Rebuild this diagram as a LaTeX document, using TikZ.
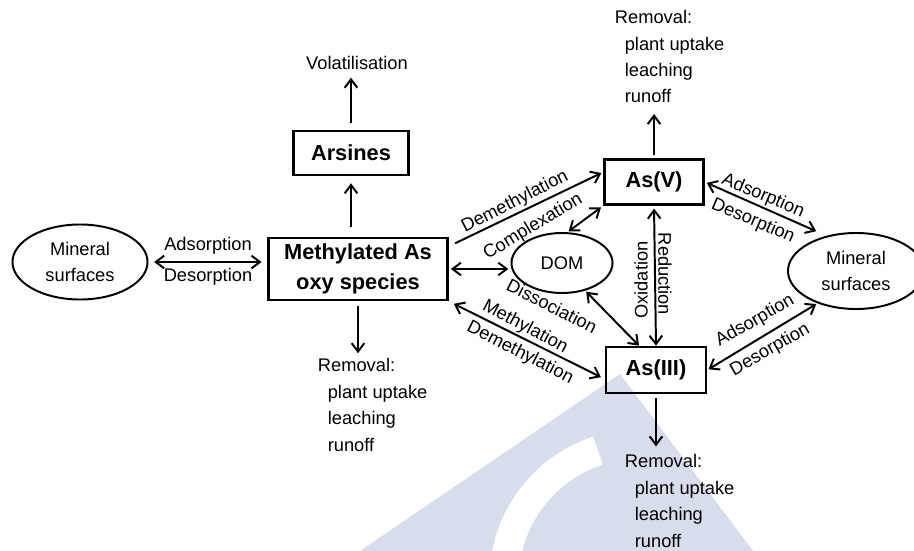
\documentclass[tikz,border=0pt]{standalone}
\usepackage{fontspec}
\setmainfont{Liberation Sans}
\usetikzlibrary{arrows.meta, shapes.geometric}
\definecolor{wmblue}{RGB}{216,221,235}

\begin{document}
\begin{tikzpicture}[x=0.025cm, y=-0.025cm, line width=1.4pt,
  font=\fontsize{13}{18.8}\selectfont,
  >={Straight Barb[length=6pt,width=9pt]},
  species/.style={draw, line width=1.8pt, inner sep=0pt, align=center,
    font=\fontsize{15.5}{21}\selectfont\bfseries},
  pool/.style={draw, ellipse, inner sep=0pt, align=center},
  lbl/.style={inner sep=0pt},
  outlist/.style={align=left, anchor=base west, inner sep=0pt}]
  \useasboundingbox (0,0) rectangle (914,551);
  % faint mark in the background
  \begin{scope}
    \clip (0,0) rectangle (914,551);
    \fill[wmblue] (620,374) -- (288,600) -- (790,600) -- cycle;
    \draw[white, line width=21pt] (640,580) ++(252:136) arc[start angle=252, end angle=160, radius=136];
  \end{scope}

  \node[pool, minimum width=3.375cm, minimum height=1.875cm] (minL) at (80,262) {Mineral\\surfaces};
  \node[species, minimum width=4.475cm, minimum height=1.55cm] (meth) at (358,269) {Methylated As\\oxy species};
  \node[species, minimum width=2.875cm, minimum height=1.1cm] (ars) at (351,153) {Arsines};
  \node[species, minimum width=2.475cm, minimum height=1.125cm] (asv) at (654,182) {As(V)};
  \node[species, minimum width=2.5cm, minimum height=1.15cm] (as3) at (656,370) {As(III)};
  \node[pool, minimum width=2.525cm, minimum height=1.5cm] (dom) at (562,263) {DOM};
  \node[pool, minimum width=3.4cm, minimum height=1.9cm] (minR) at (856,271) {Mineral\\surfaces};

  \node[lbl] (vol) at (357,63) {Volatilisation};
  % base of a list = base of its last line
  \node[outlist] (remV) at (614,103) {Removal:\\\hspace*{7pt}plant uptake\\\hspace*{7pt}leaching\\\hspace*{7pt}runoff};
  \node[outlist] (remM) at (317,451) {Removal:\\\hspace*{7pt}plant uptake\\\hspace*{7pt}leaching\\\hspace*{7pt}runoff};
  \node[outlist] (rem3) at (624,547) {Removal:\\\hspace*{7pt}plant uptake\\\hspace*{7pt}leaching\\\hspace*{7pt}runoff};

  % outflows
  \draw[->, shorten <=5pt, shorten >=5pt] (ars.north) -- (ars.north |- vol.south);
  \draw[->, shorten <=7pt, shorten >=5pt] (ars.south |- meth.north) -- (ars.south);
  \draw[->, shorten <=3.5pt, shorten >=3pt] (meth.south) -- (meth.south |- remM.north);
  \draw[->, shorten <=2pt, shorten >=7pt] (asv.north) -- (asv.north |- remV.south);
  \draw[->, shorten <=3pt, shorten >=5pt] (as3.south) -- (as3.south |- rem3.north);

  % exchanges
  \draw[<->, shorten <=4pt, shorten >=4pt] (minL.east) -- (minL.east -| meth.west);
  \node[lbl] (adsL) at (208,246) {Adsorption};
  \node[lbl] (desL) at (208,277) {Desorption};

  \draw[->, shorten <=5pt, shorten >=1.5pt] (meth.14) -- (asv.169);
  \node[lbl, rotate=27] (demU) at (515,202) {Demethylation};
  \draw[<->, shorten <=1pt, shorten >=2pt] (dom.80) -- (asv.south west);
  \node[lbl, rotate=31] (cplx) at (533,227) {Complexation};
  \draw[<->, shorten <=1.5pt, shorten >=1.5pt] (meth.east) -- (meth.east -| dom.west);
  \draw[<->, shorten <=4pt, shorten >=3pt] (meth.south east) -- (as3.190);
  \node[lbl, rotate=-28] (meU) at (525,327) {Methylation};
  \node[lbl, rotate=-27] (demL) at (520,353) {Demethylation};
  \draw[<->, shorten <=1pt, shorten >=0pt] (dom.-50) -- (as3.125);
  \node[lbl, rotate=-27] (diss) at (552,306) {Dissociation};
  \draw[<->, shorten <=2pt, shorten >=0pt] (asv.south) -- (as3.north);
  \node[lbl, rotate=90] (oxi) at (641,280) {Oxidation};
  \node[lbl, rotate=-90] (red) at (665,274) {Reduction};

  \draw[<->, shorten <=1.5pt, shorten >=8pt] (asv.east) -- (minR.130);
  \node[lbl, rotate=-23] (adsR) at (763,196) {Adsorption};
  \node[lbl, rotate=-23] (desR) at (753,221) {Desorption};
  \draw[<->, shorten <=1pt, shorten >=1pt] (as3.east) -- (minR.-140);
  \node[lbl, rotate=30] (adsB) at (755,321) {Adsorption};
  \node[lbl, rotate=30] (desB) at (770,350) {Desorption};
\end{tikzpicture}
\end{document}
